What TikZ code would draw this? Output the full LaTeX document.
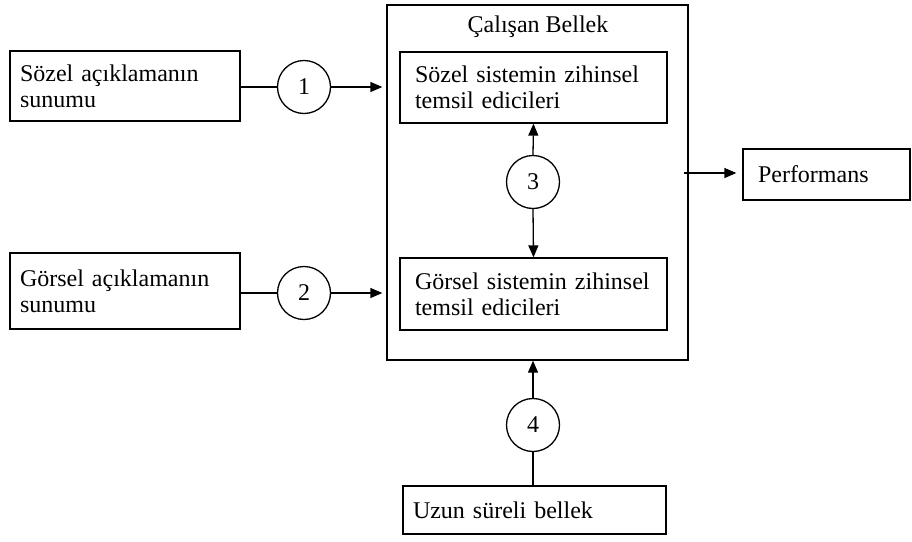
\documentclass[tikz,border=0pt]{standalone}
\usepackage{fontspec}
\setmainfont{Liberation Serif}
\usetikzlibrary{arrows.meta}
\begin{document}
\begin{tikzpicture}[x=1pt,y=-1pt,
  line width=1.3pt,
  font=\fontsize{24}{26}\selectfont,
  box/.style={draw,rectangle,align=left,inner xsep=10pt,inner ysep=0pt},
  num/.style={draw,circle,minimum size=53pt,inner sep=0pt},
  arr/.style={-{Triangle[length=12pt,width=10pt]}}]
\useasboundingbox (0,0) rectangle (912,541);
% working memory frame
\node[draw,rectangle,minimum width=301pt,minimum height=355pt,inner sep=0pt] (wm) at (537.5,182.5) {};
\node (title) at (538,27) {Çalışan Bellek};
% left inputs
\node[box,minimum width=230pt,minimum height=70pt,text width=210pt] (sozel) at (125,86) {Sözel açıklamanın\\sunumu};
\node[box,minimum width=230pt,minimum height=76pt,text width=210pt] (gorsel) at (125,291) {Görsel açıklamanın\\sunumu};
\node[num] (c1) at (304,87) {1};
\node[num] (c2) at (304,293) {2};
% inner boxes
\node[box,minimum width=267pt,minimum height=71pt,text width=237pt,inner xsep=15pt] (vs) at (533.5,87.5) {Sözel sistemin zihinsel\\temsil edicileri};
\node[box,minimum width=267pt,minimum height=72pt,text width=237pt,inner xsep=15pt] (vg) at (533.5,294) {Görsel sistemin zihinsel\\temsil edicileri};
\node[num] (c3) at (533,182) {3};
% output
\node[box,minimum width=167pt,minimum height=51pt,text width=137pt,inner xsep=15pt] (perf) at (826.5,174.5) {Performans};
% long-term memory
\node[box,minimum width=263pt,minimum height=48pt,text width=243pt] (lt) at (534.5,510) {Uzun süreli bellek};
\node[num] (c4) at (533,425) {4};
% connectors
\draw (sozel.east |- c1) -- (c1.west);
\draw[arr,shorten >=4pt] (c1.east) -- (c1.east -| wm.west);
\draw (gorsel.east |- c2) -- (c2.west);
\draw[arr,shorten >=4pt] (c2.east) -- (c2.east -| wm.west);
\draw[arr] (c3.north) -- (vs.south);
\draw[arr] (c3.south) -- (vg.north);
\coordinate (pstart) at ([xshift=-5pt]wm.east |- perf.west);
\draw[arr,shorten >=6pt] ([yshift=1.5pt]pstart) -- ([yshift=1.5pt]perf.west);
\draw (lt.north -| c4) -- (c4.south);
\draw[arr] (c4.north) -- (c4.north |- wm.south);
\end{tikzpicture}
\end{document}
